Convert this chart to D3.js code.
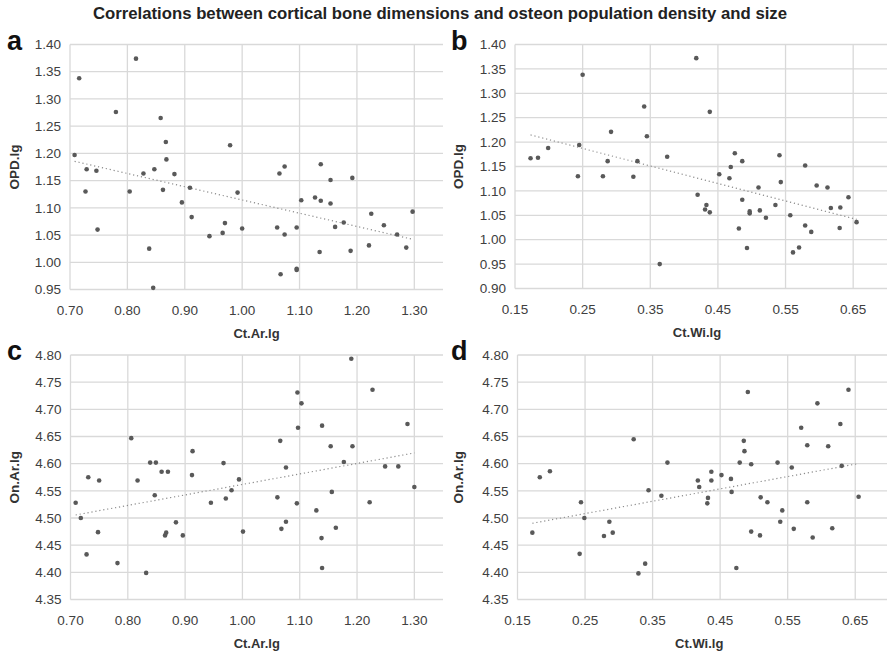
<!DOCTYPE html>
<html>
<head>
<meta charset="utf-8">
<script src="https://cdn.jsdelivr.net/npm/d3@7.9.0/dist/d3.min.js"></script>
<style>
  body { margin: 0; background: #fff; }
  svg { font-family: "Liberation Sans", Arial, Helvetica, sans-serif; }
</style>
</head>
<body>
<svg id="chart" width="887" height="654"></svg>
<script>
// values, one [x, y] pair per specimen
const opdVsCtAr = [
  [0.716, 1.338], [0.815, 1.374], [0.780, 1.276], [0.858, 1.265], [0.708, 1.197],
  [0.867, 1.221], [0.979, 1.215], [0.868, 1.189], [0.729, 1.171], [0.746, 1.168],
  [0.828, 1.163], [0.847, 1.171], [0.882, 1.162], [0.727, 1.130], [0.804, 1.130],
  [0.862, 1.133], [0.895, 1.110], [0.909, 1.137], [0.992, 1.128], [0.912, 1.083],
  [0.748, 1.060], [0.943, 1.048], [0.966, 1.054], [0.970, 1.072], [0.838, 1.025],
  [0.845, 0.953], [1.000, 1.062], [1.065, 1.163], [1.074, 1.176], [1.061, 1.064],
  [1.074, 1.051], [1.095, 1.064], [1.067, 0.978], [1.095, 0.988], [1.095, 0.986],
  [1.103, 1.114], [1.137, 1.180], [1.154, 1.151], [1.192, 1.155], [1.127, 1.119],
  [1.137, 1.113], [1.154, 1.108], [1.162, 1.065], [1.177, 1.073], [1.135, 1.019],
  [1.189, 1.021], [1.225, 1.089], [1.247, 1.068], [1.270, 1.051], [1.221, 1.031],
  [1.297, 1.093], [1.286, 1.027]
];

const opdVsCtWi = [
  [0.173, 1.167], [0.184, 1.168], [0.199, 1.188], [0.250, 1.338], [0.245, 1.194],
  [0.243, 1.130], [0.292, 1.221], [0.280, 1.130], [0.287, 1.161], [0.341, 1.273],
  [0.345, 1.212], [0.325, 1.129], [0.331, 1.161], [0.375, 1.170], [0.364, 0.950],
  [0.418, 1.372], [0.438, 1.262], [0.420, 1.092], [0.433, 1.071], [0.431, 1.062],
  [0.438, 1.056], [0.452, 1.134], [0.475, 1.177], [0.486, 1.161], [0.469, 1.149],
  [0.467, 1.126], [0.481, 1.023], [0.493, 0.983], [0.510, 1.107], [0.486, 1.082],
  [0.497, 1.058], [0.497, 1.054], [0.512, 1.060], [0.521, 1.045], [0.535, 1.071],
  [0.541, 1.173], [0.543, 1.118], [0.557, 1.050], [0.561, 0.974], [0.570, 0.984],
  [0.579, 1.152], [0.579, 1.029], [0.588, 1.016], [0.596, 1.111], [0.612, 1.107],
  [0.617, 1.065], [0.631, 1.066], [0.630, 1.024], [0.643, 1.087], [0.655, 1.036]
];

const onArVsCtAr = [
  [0.709, 4.528], [0.718, 4.500], [0.731, 4.575], [0.728, 4.433], [0.750, 4.569],
  [0.748, 4.474], [0.782, 4.417], [0.806, 4.647], [0.817, 4.569], [0.832, 4.399],
  [0.839, 4.602], [0.849, 4.602], [0.847, 4.542], [0.859, 4.585], [0.870, 4.585],
  [0.865, 4.468], [0.867, 4.473], [0.884, 4.492], [0.896, 4.468], [0.913, 4.623],
  [0.912, 4.579], [0.945, 4.528], [0.967, 4.601], [0.971, 4.536], [0.981, 4.551],
  [0.994, 4.571], [1.190, 4.793], [1.227, 4.736], [1.096, 4.731], [1.103, 4.711],
  [1.097, 4.666], [1.139, 4.670], [1.288, 4.673], [1.066, 4.642], [1.154, 4.632],
  [1.192, 4.632], [1.177, 4.603], [1.076, 4.593], [1.249, 4.595], [1.272, 4.595],
  [1.300, 4.557], [1.156, 4.548], [1.061, 4.538], [1.095, 4.527], [1.222, 4.529],
  [1.129, 4.514], [1.076, 4.493], [1.068, 4.480], [1.001, 4.475], [1.163, 4.482],
  [1.138, 4.463], [1.139, 4.408]
];

const onArVsCtWi = [
  [0.172, 4.473], [0.183, 4.575], [0.198, 4.586], [0.244, 4.529], [0.249, 4.500],
  [0.242, 4.434], [0.286, 4.493], [0.278, 4.467], [0.291, 4.473], [0.322, 4.645],
  [0.329, 4.398], [0.339, 4.416], [0.344, 4.551], [0.363, 4.541], [0.372, 4.602],
  [0.491, 4.732], [0.640, 4.736], [0.594, 4.711], [0.570, 4.666], [0.628, 4.673],
  [0.485, 4.642], [0.486, 4.623], [0.579, 4.634], [0.610, 4.632], [0.479, 4.602],
  [0.496, 4.599], [0.535, 4.602], [0.556, 4.593], [0.630, 4.596], [0.437, 4.585],
  [0.452, 4.579], [0.466, 4.572], [0.417, 4.569], [0.437, 4.569], [0.419, 4.557],
  [0.467, 4.548], [0.432, 4.537], [0.431, 4.527], [0.510, 4.538], [0.520, 4.529],
  [0.579, 4.529], [0.655, 4.539], [0.542, 4.514], [0.539, 4.493], [0.559, 4.480],
  [0.616, 4.481], [0.496, 4.475], [0.509, 4.468], [0.587, 4.464], [0.474, 4.408]
];

const ctArTicks = [0.70, 0.80, 0.90, 1.00, 1.10, 1.20, 1.30];
const ctWiTicks = [0.15, 0.25, 0.35, 0.45, 0.55, 0.65];
const opdTicksA = d3.range(0, 10).map(i => 0.95 + i * 0.05);
const opdTicksB = d3.range(0, 11).map(i => 0.90 + i * 0.05);
const onArTicks = d3.range(0, 10).map(i => 4.35 + i * 0.05);

const title = 'Correlations between cortical bone dimensions and osteon population density and size';

const panels = [
  { letter: 'a', data: opdVsCtAr, xTitle: 'Ct.Ar.lg', yTitle: 'OPD.lg',
    xDomain: [0.70, 1.35], yDomain: [0.95, 1.40], xTicks: ctArTicks, yTicks: opdTicksA,
    left: 70, right: 443, top: 44.5, bottom: 289.5, off: 0 },
  { letter: 'b', data: opdVsCtWi, xTitle: 'Ct.Wi.lg', yTitle: 'OPD.lg',
    xDomain: [0.15, 0.70], yDomain: [0.90, 1.40], xTicks: ctWiTicks, yTicks: opdTicksB,
    left: 515, right: 887, top: 44.5, bottom: 288.5, off: 444 },
  { letter: 'c', data: onArVsCtAr, xTitle: 'Ct.Ar.lg', yTitle: 'On.Ar.lg',
    xDomain: [0.70, 1.35], yDomain: [4.35, 4.80], xTicks: ctArTicks, yTicks: onArTicks,
    left: 70.5, right: 443, top: 355, bottom: 599.5, off: 0 },
  { letter: 'd', data: onArVsCtWi, xTitle: 'Ct.Wi.lg', yTitle: 'On.Ar.lg',
    xDomain: [0.15, 0.70], yDomain: [4.35, 4.80], xTicks: ctWiTicks, yTicks: onArTicks,
    left: 517.5, right: 889, top: 355, bottom: 599.5, off: 444 }
];

const svg = d3.select('#chart');

svg.append('text')
  .attr('x', 440).attr('y', 19)
  .attr('text-anchor', 'middle')
  .attr('font-size', 16).attr('font-weight', 'bold').attr('fill', '#222')
  .attr('textLength', 694).attr('lengthAdjust', 'spacingAndGlyphs')
  .text(title);

const fmt = d3.format('.2f');

// simple least squares for the dotted trend lines
function linearFit(pts) {
  const mx = d3.mean(pts, d => d[0]);
  const my = d3.mean(pts, d => d[1]);
  const b = d3.sum(pts, d => (d[0] - mx) * (d[1] - my)) / d3.sum(pts, d => (d[0] - mx) ** 2);
  return x => my + b * (x - mx);
}

panels.forEach(p => {
  const x = d3.scaleLinear().domain(p.xDomain).range([p.left, p.right]);
  const y = d3.scaleLinear().domain(p.yDomain).range([p.bottom, p.top]);
  const g = svg.append('g');

  // grid
  g.selectAll('.hgrid').data(p.yTicks).join('line')
    .attr('x1', p.left).attr('x2', p.right)
    .attr('y1', d => y(d)).attr('y2', d => y(d))
    .attr('stroke', '#d9d9d9').attr('stroke-width', 1.3);
  g.selectAll('.vgrid').data(p.xTicks).join('line')
    .attr('x1', d => x(d)).attr('x2', d => x(d))
    .attr('y1', p.top).attr('y2', p.bottom)
    .attr('stroke', '#d9d9d9').attr('stroke-width', 1.3);

  // tick labels
  g.selectAll('.ylab').data(p.yTicks).join('text')
    .attr('x', p.left - 9).attr('y', d => y(d)).attr('dy', '0.35em')
    .attr('text-anchor', 'end').attr('font-size', 13.5).attr('fill', '#404040')
    .text(fmt);
  g.selectAll('.xlab').data(p.xTicks).join('text')
    .attr('x', d => x(d)).attr('y', p.bottom + 25)
    .attr('text-anchor', 'middle').attr('font-size', 13.5).attr('fill', '#404040')
    .text(fmt);

  // axis titles
  g.append('text')
    .attr('x', (p.left + p.right) / 2 + (p.off ? -4 : 0)).attr('y', p.bottom + 48.5)
    .attr('text-anchor', 'middle').attr('font-size', 13).attr('font-weight', 'bold')
    .attr('fill', '#333').text(p.xTitle);
  const ty = (p.top + p.bottom) / 2;
  g.append('text')
    .attr('transform', `translate(${19 + p.off},${ty}) rotate(-90)`)
    .attr('text-anchor', 'middle').attr('font-size', 13.5).attr('font-weight', 'bold')
    .attr('fill', '#333').text(p.yTitle);

  // panel letter
  g.append('text')
    .attr('x', 7 + p.off).attr('y', p.top + 5)
    .attr('font-size', 27).attr('font-weight', 'bold').attr('fill', '#111')
    .text(p.letter);

  // trend line
  const fit = linearFit(p.data);
  const ext = d3.extent(p.data, d => d[0]);
  g.append('line')
    .attr('x1', x(ext[0])).attr('y1', y(fit(ext[0])))
    .attr('x2', x(ext[1])).attr('y2', y(fit(ext[1])))
    .attr('stroke', '#8c8c8c').attr('stroke-width', 1.2)
    .attr('stroke-dasharray', '1.2,2.8');

  // points
  g.selectAll('circle').data(p.data).join('circle')
    .attr('cx', d => x(d[0])).attr('cy', d => y(d[1]))
    .attr('r', 2.3).attr('fill', '#595959');
});
</script>
</body>
</html>
